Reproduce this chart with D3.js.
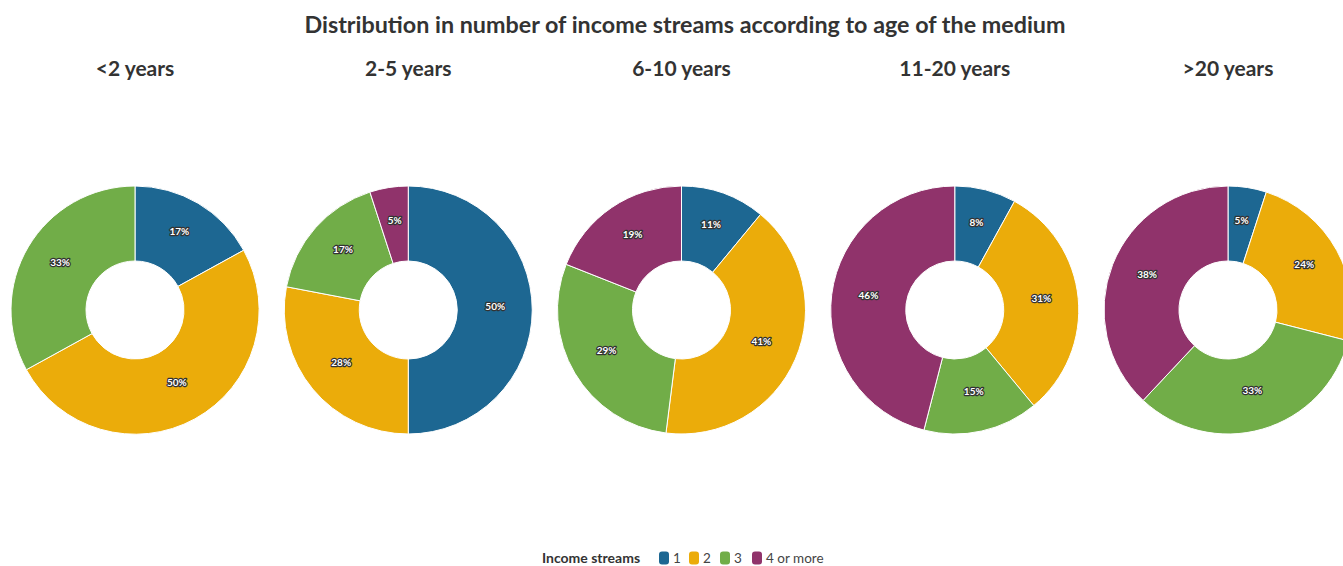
<!DOCTYPE html>
<html>
<head>
<meta charset="utf-8">
<script src="https://cdn.jsdelivr.net/npm/d3@7"></script>
<style>
  html, body { margin: 0; padding: 0; background: #fff; overflow: hidden; }
  svg { display: block; font-family: "Source Sans Pro", Lato, "Open Sans", sans-serif; }
</style>
</head>
<body>
<svg id="chart" width="1343" height="566"></svg>
<script>
// Age groups of the medium (one donut each)
const ageGroups = ["<2 years", "2-5 years", "6-10 years", "11-20 years", ">20 years"];
// Number of income streams (legend keys)
const streams = ["1", "2", "3", "4 or more"];
// Percentage share per age group, in the order of `streams`
const share1 = [17, 50, 11, 8, 5];
const share2 = [50, 28, 41, 31, 24];
const share3 = [33, 17, 29, 15, 33];
const share4 = [0, 5, 19, 46, 38];

const palette = ["#1d6792", "#ebac0a", "#71ad48", "#90336b"];

const svg = d3.select("#chart");

svg.append("text")
  .attr("x", 685).attr("y", 33)
  .attr("text-anchor", "middle")
  .attr("font-size", 23.3).attr("font-weight", 700)
  .attr("fill", "#333")
  .text("Distribution in number of income streams according to age of the medium");

const x = d3.scalePoint().domain(ageGroups).range([135, 1228]);
const color = d3.scaleOrdinal().domain(streams).range(palette);
const cy = 310, rOuter = 124, rInner = 49;

const pie = d3.pie().sort(null).value(d => d.v);
const arc = d3.arc().innerRadius(rInner).outerRadius(rOuter);
const labelArc = d3.arc().innerRadius(rInner + 38).outerRadius(rInner + 38);

const series = [share1, share2, share3, share4];

ageGroups.forEach((g, i) => {
  const rows = streams.map((s, k) => ({ key: s, v: series[k][i] }));
  const cx = x(g);

  svg.append("text")
    .attr("x", cx).attr("y", 76)
    .attr("text-anchor", "middle")
    .attr("font-size", 21).attr("font-weight", 700)
    .attr("fill", "#333")
    .text(g);

  const grp = svg.append("g").attr("transform", `translate(${cx},${cy})`);
  const arcs = pie(rows).filter(d => d.data.v > 0);

  grp.selectAll("path").data(arcs).join("path")
    .attr("d", arc)
    .attr("fill", d => color(d.data.key))
    .attr("stroke", "#fff").attr("stroke-width", 1);

  grp.selectAll("text").data(arcs).join("text")
    .attr("transform", d => `translate(${labelArc.centroid(d)})`)
    .attr("text-anchor", "middle").attr("dy", "0.02em")
    .attr("font-size", 10).attr("font-weight", 700)
    .attr("fill", "#fff")
    .attr("stroke", "#333").attr("stroke-width", 2.4)
    .attr("stroke-linejoin", "round")
    .attr("paint-order", "stroke")
    .text(d => d.data.v + "%");
});

// Legend
const legend = svg.append("g").attr("transform", "translate(0,558)");
legend.append("text")
  .attr("x", 542).attr("y", 5)
  .attr("font-size", 14).attr("font-weight", 700).attr("fill", "#333")
  .text("Income streams");
const legendX = [659, 689, 720, 752];
streams.forEach((s, k) => {
  legend.append("rect")
    .attr("x", legendX[k]).attr("y", -6.5)
    .attr("width", 10).attr("height", 13)
    .attr("rx", 3)
    .attr("fill", color(s));
  legend.append("text")
    .attr("x", legendX[k] + 14).attr("y", 5)
    .attr("font-size", 13.5).attr("fill", "#444")
    .text(s);
});
</script>
</body>
</html>
